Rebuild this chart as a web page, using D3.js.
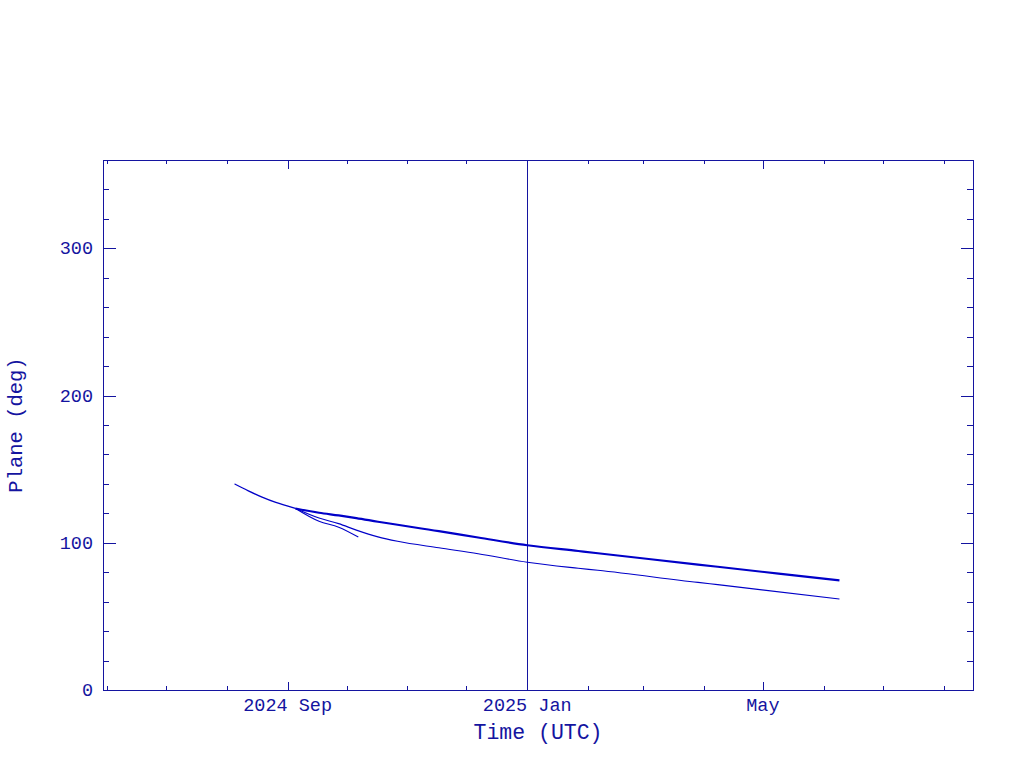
<!DOCTYPE html>
<html>
<head>
<meta charset="utf-8">
<script src="https://cdn.jsdelivr.net/npm/d3@7/dist/d3.min.js"></script>
<style>
  html, body { margin: 0; padding: 0; background: #ffffff; }
  svg { display: block; }
</style>
</head>
<body>
<script>
// ---- data ----
const xDomain = ["2024-05-30", "2025-08-16"];
const yDomain = [0, 360];
const majorXTicks = ["2024-09-01", "2025-01-01", "2025-05-01"];
const majorXLabels = ["2024 Sep", "2025 Jan", "May"];
const yMajorTicks = [0, 100, 200, 300];
const markerDate = "2025-01-01";

// shared beginning of all tracks
const sharedDates  = ["2024-08-05", "2024-08-12", "2024-08-19", "2024-08-26", "2024-09-02", "2024-09-05"];
const sharedValues = [140.0, 135.3, 131.0, 127.4, 124.6, 123.3];

// upper (thick) track
const upperDates  = ["2024-09-05", "2024-09-17", "2024-09-27", "2024-10-06", "2024-10-17", "2024-11-17", "2024-12-07", "2025-01-01", "2025-01-27", "2025-02-06", "2025-03-29", "2025-04-08", "2025-06-09"];
const upperValues = [123.3, 120.4, 118.6, 116.8, 114.3, 107.9, 103.6, 98.3, 94.4, 92.9, 85.2, 83.7, 74.4];

// lower (thin) track
const lowerDates  = ["2024-09-05", "2024-09-17", "2024-09-27", "2024-10-06", "2024-10-17", "2024-10-27", "2024-11-17", "2024-12-07", "2025-01-01", "2025-01-27", "2025-02-06", "2025-03-29", "2025-04-08", "2025-06-09"];
const lowerValues = [123.3, 116.8, 113.0, 108.6, 104.0, 101.0, 96.6, 92.6, 86.8, 82.7, 81.3, 73.1, 71.6, 61.8];

// short branch
const branchDates  = ["2024-09-05", "2024-09-17", "2024-09-27", "2024-10-07"];
const branchValues = [123.3, 114.6, 110.6, 103.9];

// ---- layout ----
const W = 1024, H = 768;
const L = 103, R = 973, T = 160, B = 690;
const axisColor = "#1414a0";
const lineColor = "#0000c8";
const fontFam = "'Liberation Mono', 'DejaVu Sans Mono', monospace";

const parse = d3.utcParse("%Y-%m-%d");
const x = d3.scaleUtc().domain(xDomain.map(parse)).range([L, R]);
const y = d3.scaleLinear().domain(yDomain).range([B, T]);

const svg = d3.select("body").append("svg").attr("width", W).attr("height", H);

// frame
svg.append("rect").attr("x", L).attr("y", T).attr("width", R - L).attr("height", B - T)
  .attr("fill", "none").attr("stroke", axisColor).attr("stroke-width", 1)
  .attr("shape-rendering", "crispEdges");

const monthTicks = d3.utcMonth.range(x.domain()[0], x.domain()[1]);
const majorSet = new Set(majorXTicks);
const fmt = d3.utcFormat("%Y-%m-%d");
const minorMonths = monthTicks.filter(d => !majorSet.has(fmt(d)));
const majorMonths = majorXTicks.map(parse);

const yMinor = d3.range(0, 361, 20).filter(v => !yMajorTicks.includes(v) && v > 0 && v < 360);

function styleAxis(g) {
  g.select(".domain").remove();
  g.selectAll(".tick line").attr("stroke", axisColor).attr("shape-rendering", "crispEdges");
  g.selectAll(".tick text").remove();
}

// bottom ticks
svg.append("g").attr("transform", `translate(0,${B})`)
  .call(d3.axisBottom(x).tickValues(minorMonths).tickSize(-4)).call(styleAxis);
svg.append("g").attr("transform", `translate(0,${B})`)
  .call(d3.axisBottom(x).tickValues(majorMonths).tickSize(-8)).call(styleAxis);
// top ticks
svg.append("g").attr("transform", `translate(0,${T})`)
  .call(d3.axisTop(x).tickValues(minorMonths).tickSize(-4)).call(styleAxis);
svg.append("g").attr("transform", `translate(0,${T})`)
  .call(d3.axisTop(x).tickValues(majorMonths).tickSize(-9)).call(styleAxis);
// left ticks
svg.append("g").attr("transform", `translate(${L},0)`)
  .call(d3.axisLeft(y).tickValues(yMinor).tickSize(-6)).call(styleAxis);
svg.append("g").attr("transform", `translate(${L},0)`)
  .call(d3.axisLeft(y).tickValues(yMajorTicks).tickSize(-13)).call(styleAxis);
// right ticks
svg.append("g").attr("transform", `translate(${R},0)`)
  .call(d3.axisRight(y).tickValues(yMinor).tickSize(-6)).call(styleAxis);
svg.append("g").attr("transform", `translate(${R},0)`)
  .call(d3.axisRight(y).tickValues(yMajorTicks).tickSize(-12)).call(styleAxis);

// x tick labels
svg.append("g").selectAll("text").data(majorXTicks).join("text")
  .attr("x", d => x(parse(d)))
  .attr("y", 711)
  .attr("text-anchor", "middle")
  .attr("font-family", fontFam).attr("font-size", 18.5)
  .attr("fill", axisColor)
  .text((d, i) => majorXLabels[i]);

// y tick labels
svg.append("g").selectAll("text").data(yMajorTicks).join("text")
  .attr("x", 93)
  .attr("y", d => y(d) + 6)
  .attr("text-anchor", "end")
  .attr("font-family", fontFam).attr("font-size", 18.5)
  .attr("fill", axisColor)
  .text(d => d);

// axis titles
svg.append("text").attr("x", (L + R) / 2).attr("y", 739)
  .attr("text-anchor", "middle").attr("font-family", fontFam).attr("font-size", 21.5)
  .attr("fill", axisColor).text("Time (UTC)");
svg.append("text").attr("transform", `translate(22,${(T + B) / 2}) rotate(-90)`)
  .attr("text-anchor", "middle").attr("font-family", fontFam).attr("font-size", 20.5)
  .attr("fill", axisColor).text("Plane (deg)");

// vertical marker
svg.append("line")
  .attr("x1", x(parse(markerDate))).attr("x2", x(parse(markerDate)))
  .attr("y1", T).attr("y2", B)
  .attr("stroke", axisColor).attr("stroke-width", 1).attr("shape-rendering", "crispEdges");

// lines
const line = d3.line().x(d => x(d[0])).y(d => y(d[1])).curve(d3.curveMonotoneX);
function series(dates, vals) { return dates.map((d, i) => [parse(d), vals[i]]); }

const plot = svg.append("g");
plot.append("path").datum(series(sharedDates, sharedValues)).attr("d", line)
  .attr("fill", "none").attr("stroke", lineColor).attr("stroke-width", 1.3);
plot.append("path").datum(series(branchDates, branchValues)).attr("d", line)
  .attr("fill", "none").attr("stroke", lineColor).attr("stroke-width", 1.1);
plot.append("path").datum(series(lowerDates, lowerValues)).attr("d", line)
  .attr("fill", "none").attr("stroke", lineColor).attr("stroke-width", 1.1);
plot.append("path").datum(series(upperDates, upperValues)).attr("d", line)
  .attr("fill", "none").attr("stroke", lineColor).attr("stroke-width", 2.2);
</script>
</body>
</html>
